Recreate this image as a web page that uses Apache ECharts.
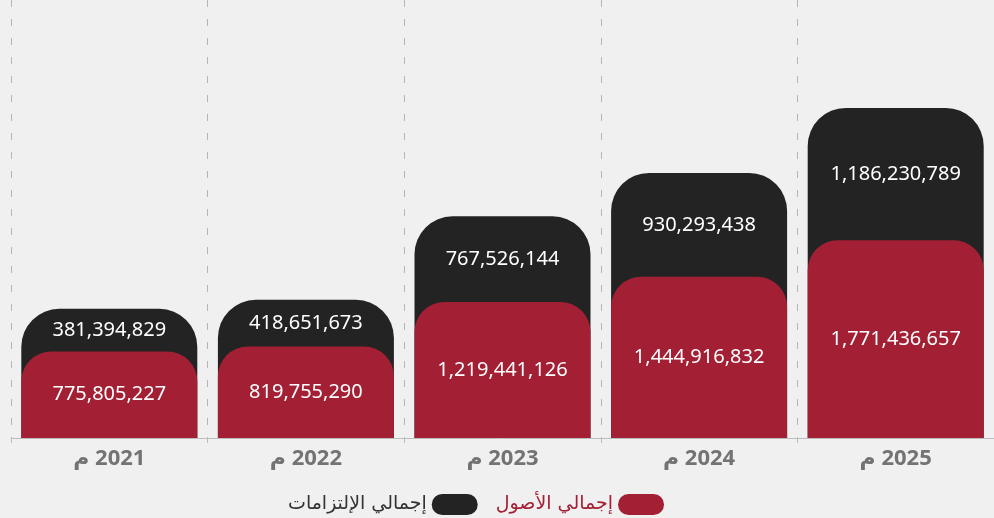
<!DOCTYPE html>
<html>
<head>
<meta charset="utf-8">
<script src="https://cdn.jsdelivr.net/npm/echarts@6/dist/echarts.min.js"></script>
<style>
  html, body { margin: 0; padding: 0; background: #f0f0f0; }
  #chart { width: 994px; height: 518px; }
</style>
</head>
<body>
<div id="chart"></div>
<script>
// السنوات
const years = ['2021', '2022', '2023', '2024', '2025'];
// إجمالي الأصول
const assets = [775805227, 819755290, 1219441126, 1444916832, 1771436657];
// إجمالي الإلتزامات
const liabilities = [381394829, 418651673, 767526144, 930293438, 1186230789];

const assetsName = 'إجمالي الأصول';
const liabName = 'إجمالي الإلتزامات';
const red = '#a21f34';
const black = '#232323';

// black bar reaches assets + liabilities, red bar sits in front of it
const totals = assets.map((v, i) => v + liabilities[i]);

const fmt = v => Number(v).toLocaleString('en-US');
const pill = 'path://M11,0 H37 A11,11 0 0 1 37,22 H11 A11,11 0 0 1 11,0 Z';

const chart = echarts.init(document.getElementById('chart'));
chart.setOption({
  backgroundColor: '#f0f0f0',
  animation: false,
  textStyle: { fontFamily: '"Noto Sans", "DejaVu Sans", sans-serif' },
  grid: { left: 11, right: 0, top: 0, bottom: 80 },
  legend: {
    bottom: -2,
    left: 283,
    align: 'right',
    icon: pill,
    itemWidth: 46,
    itemHeight: 22,
    itemGap: 18,
    textStyle: { fontSize: 19, fontFamily: '"DejaVu Sans", sans-serif' },
    data: [
      { name: liabName, itemStyle: { color: black }, textStyle: { color: '#333' } },
      { name: assetsName, itemStyle: { color: red }, textStyle: { color: red } }
    ]
  },
  xAxis: {
    type: 'category',
    data: years,
    axisLine: { lineStyle: { color: '#bdbdbd', width: 1 } },
    axisTick: { show: true, length: 5, lineStyle: { color: '#bdbdbd' } },
    splitLine: { show: true, lineStyle: { color: '#b5b5b5', type: [7, 12], width: 1 } },
    axisLabel: {
      margin: 10,
      color: '#737373',
      fontSize: 22,
      fontWeight: 'bold',
      formatter: v => 'م\u200E ' + v
    }
  },
  yAxis: {
    type: 'value',
    min: 0,
    max: 3925000000,
    show: false,
    splitLine: { show: false }
  },
  series: [
    {
      name: liabName,
      type: 'bar',
      barWidth: 176,
      barGap: '-100%',
      silent: true,
      itemStyle: { color: black, borderRadius: [38, 38, 0, 0] },
      data: totals
    },
    {
      name: assetsName,
      type: 'bar',
      stack: 'v',
      barWidth: 176,
      barGap: '-100%',
      itemStyle: { color: red, borderRadius: [30, 30, 0, 0] },
      label: {
        show: true,
        position: 'inside',
        color: '#fff',
        fontSize: 20,
        formatter: p => fmt(p.value)
      },
      data: assets
    },
    {
      name: 'labels',
      type: 'bar',
      stack: 'v',
      barWidth: 176,
      barGap: '-100%',
      silent: true,
      itemStyle: { color: 'rgba(0,0,0,0)' },
      label: {
        show: true,
        position: 'inside',
        color: '#fff',
        fontSize: 20,
        formatter: p => fmt(p.value)
      },
      data: liabilities
    }
  ]
});
</script>
</body>
</html>
